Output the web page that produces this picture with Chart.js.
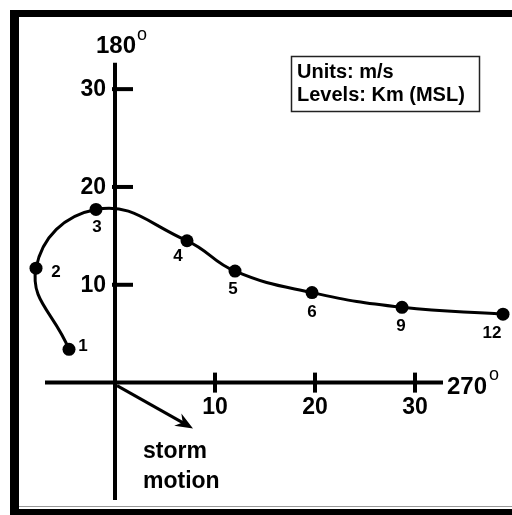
<!DOCTYPE html>
<html>
<head>
<meta charset="utf-8">
<script src="https://cdn.jsdelivr.net/npm/chart.js@4"></script>
<style>
  html, body { margin: 0; padding: 0; background: #fff; }
  canvas { display: block; }
</style>
</head>
<body>
<canvas id="myChart" width="512" height="515"></canvas>
<script>
// hodograph: height levels (km MSL) and wind components (m/s)
const levels = ['1', '2', '3', '4', '5', '6', '9', '12'];
const uWind = [-4.6, -7.9, -1.9, 7.2, 12.0, 19.7, 28.7, 38.8];
const vWind = [3.4, 11.7, 17.7, 14.5, 11.4, 9.2, 7.7, 7.0];
const tickValues = [10, 20, 30];
const stormMotion = [7.8, -4.7];
const xAxisTitle = '270';
const yAxisTitle = '180';
const unitsText = ['Units: m/s', 'Levels: Km (MSL)'];
const stormText = ['storm', 'motion'];

const points = uWind.map((u, i) => ({ x: u, y: vWind[i] }));

// label offsets from each dot (px)
const labelOffsets = [[14, -3], [20, 4], [1, 18], [-9, 16], [-2, 18], [0, 20], [-1, 19], [-11, 19]];

function line(ctx, x1, y1, x2, y2) {
    ctx.beginPath();
    ctx.moveTo(x1, y1);
    ctx.lineTo(x2, y2);
    ctx.stroke();
}

const hodoPlugin = {
    id: 'hodo',
    beforeDatasetsDraw(chart) {
        const ctx = chart.ctx;
        const xs = chart.scales.x, ys = chart.scales.y;
        const x0 = xs.getPixelForValue(0), y0 = ys.getPixelForValue(0);
        ctx.save();
        // frame
        ctx.fillStyle = '#000';
        ctx.fillRect(10, 10, 9, 505);
        ctx.fillRect(10, 10, 502, 7);
        ctx.fillRect(10, 509, 502, 6);
        ctx.fillStyle = '#999';
        ctx.fillRect(19, 506, 493, 1);

        // axes
        ctx.strokeStyle = '#000';
        ctx.lineWidth = 4;
        line(ctx, xs.getPixelForValue(-7), y0, xs.getPixelForValue(32.8), y0);
        line(ctx, x0, ys.getPixelForValue(32.7), x0, ys.getPixelForValue(-12));

        // ticks + labels
        ctx.font = 'bold 23px "Liberation Sans", Arial, sans-serif';
        ctx.fillStyle = '#000';
        tickValues.forEach(t => {
            const px = xs.getPixelForValue(t);
            line(ctx, px, y0 - 10, px, y0 + 10);
            ctx.textAlign = 'center';
            ctx.textBaseline = 'alphabetic';
            ctx.fillText(String(t), px, y0 + 31);
            const py = ys.getPixelForValue(t);
            line(ctx, x0 - 3, py, x0 + 18, py);
            ctx.textAlign = 'right';
            ctx.textBaseline = 'middle';
            ctx.fillText(String(t), x0 - 9, py + 1);
        });

        // axis titles with degree mark
        ctx.textAlign = 'left';
        ctx.textBaseline = 'alphabetic';
        ctx.font = 'bold 24px "Liberation Sans", Arial, sans-serif';
        ctx.fillText(xAxisTitle, xs.getPixelForValue(33.2), y0 + 11);
        ctx.fillText(yAxisTitle, x0 - 19, ys.getPixelForValue(33.7));
        ctx.font = '18px "Liberation Sans", Arial, sans-serif';
        ctx.fillText('o', xs.getPixelForValue(37.4), y0 - 3);
        ctx.fillText('o', x0 + 22, ys.getPixelForValue(35.0));

        // storm motion arrow
        const sx = xs.getPixelForValue(stormMotion[0]), sy = ys.getPixelForValue(stormMotion[1]);
        ctx.lineWidth = 3;
        line(ctx, x0 + 2, y0 + 3, sx - 5, sy - 3);
        const ang = Math.atan2(sy - y0, sx - x0);
        ctx.beginPath();
        ctx.moveTo(sx, sy);
        ctx.lineTo(sx - 19 * Math.cos(ang - 0.38), sy - 19 * Math.sin(ang - 0.38));
        ctx.lineTo(sx - 12 * Math.cos(ang), sy - 12 * Math.sin(ang));
        ctx.lineTo(sx - 19 * Math.cos(ang + 0.38), sy - 19 * Math.sin(ang + 0.38));
        ctx.closePath();
        ctx.fill();

        ctx.font = 'bold 23px "Liberation Sans", Arial, sans-serif';
        ctx.fillText(stormText[0], 143, 458);
        ctx.fillText(stormText[1], 143, 488);

        // units box
        ctx.lineWidth = 1.5;
        ctx.strokeStyle = '#222';
        ctx.strokeRect(291.5, 56.5, 188, 55);
        ctx.font = 'bold 20px "Liberation Sans", Arial, sans-serif';
        ctx.fillText(unitsText[0], 297, 78);
        ctx.fillText(unitsText[1], 297, 101);
        ctx.restore();
    },
    afterDatasetsDraw(chart) {
        const ctx = chart.ctx;
        const meta = chart.getDatasetMeta(0);
        ctx.save();
        ctx.font = 'bold 17px "Liberation Sans", Arial, sans-serif';
        ctx.fillStyle = '#000';
        ctx.textAlign = 'center';
        ctx.textBaseline = 'middle';
        meta.data.forEach((pt, i) => {
            ctx.fillText(levels[i], pt.x + labelOffsets[i][0], pt.y + labelOffsets[i][1]);
        });
        ctx.restore();
    }
};

new Chart(document.getElementById('myChart'), {
    type: 'scatter',
    data: {
        datasets: [{
            label: 'Hodograph',
            data: points,
            showLine: true,
            tension: 0.45,
            borderColor: '#000',
            borderWidth: 3,
            pointRadius: 6.5,
            pointBackgroundColor: '#000',
            pointBorderWidth: 0,
            clip: false
        }]
    },
    options: {
        responsive: false,
        animation: false,
        layout: { padding: { left: 25, right: 7, top: 50, bottom: 15 } },
        plugins: {
            legend: { display: false },
            tooltip: { enabled: false }
        },
        scales: {
            x: { type: 'linear', min: -9, max: 39, display: false },
            y: { type: 'linear', min: -12, max: 34, display: false }
        }
    },
    plugins: [hodoPlugin]
});
</script>
</body>
</html>
